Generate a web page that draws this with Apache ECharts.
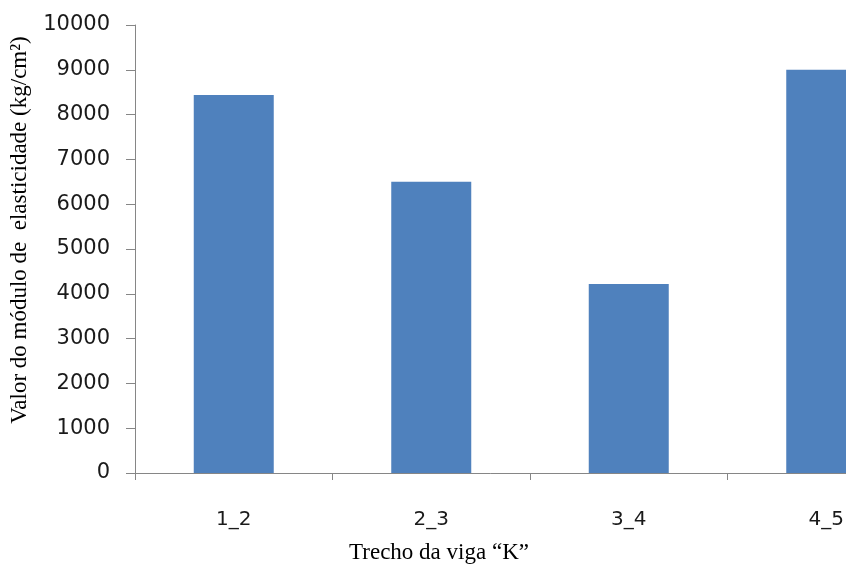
<!DOCTYPE html>
<html>
<head>
<meta charset="utf-8">
<script src="https://cdn.jsdelivr.net/npm/echarts@6/dist/echarts.min.js"></script>
<style>
  html, body { margin: 0; padding: 0; background: #ffffff; }
  #chart { width: 846px; height: 565px; }
</style>
</head>
<body>
<div id="chart"></div>
<script>
// Beam sections and the elasticity modulus measured on each
const categories = ['1_2', '2_3', '3_4', '4_5'];
const modulusValues = [8440, 6500, 4220, 9000];
const yTicks = { min: 0, max: 10000, interval: 1000 };

const chart = echarts.init(document.getElementById('chart'), null, { renderer: 'canvas' });

chart.setOption({
  animation: false,
  backgroundColor: '#ffffff',
  // the last category runs past the right edge of the canvas
  grid: {
    left: 135, top: 25, width: 790, height: 448,
    containLabel: false, outerBoundsMode: 'none'
  },
  xAxis: {
    type: 'category',
    data: categories,
    name: 'Trecho da viga \u201cK\u201d',
    nameLocation: 'middle',
    nameGap: 68,
    nameTextStyle: {
      fontFamily: 'Liberation Serif', fontSize: 23, color: '#000000',
      padding: [0, 182, 0, 0]
    },
    axisLine: { lineStyle: { color: '#868686', width: 1 } },
    axisTick: { show: true, length: 7, lineStyle: { color: '#868686' } },
    axisLabel: { margin: 37, fontFamily: 'DejaVu Sans', fontSize: 20, color: '#1a1a1a' },
    splitLine: { show: false }
  },
  yAxis: {
    type: 'value',
    min: yTicks.min,
    max: yTicks.max,
    interval: yTicks.interval,
    name: 'Valor do m\u00f3dulo de  elasticidade (kg/cm\u00b2)',
    nameLocation: 'middle',
    nameRotate: 90,
    nameGap: 104,
    nameTextStyle: {
      fontFamily: 'Liberation Serif', fontSize: 23, color: '#000000',
      padding: [0, 0, 0, 38]
    },
    axisLine: { show: true, lineStyle: { color: '#868686', width: 1 } },
    axisTick: { show: true, length: 9, lineStyle: { color: '#868686' } },
    axisLabel: {
      margin: 25, fontFamily: 'DejaVu Sans', fontSize: 21, color: '#1a1a1a',
      formatter: (v) => String(v)
    },
    splitLine: { show: false }
  },
  series: [{
    type: 'bar',
    data: modulusValues,
    barWidth: 80,
    itemStyle: { color: '#4f81bd' }
  }]
});
</script>
</body>
</html>
